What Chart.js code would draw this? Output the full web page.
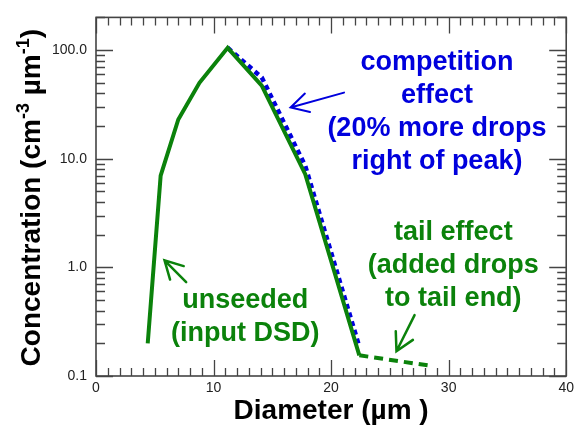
<!DOCTYPE html>
<html>
<head>
<meta charset="utf-8">
<script src="https://cdn.jsdelivr.net/npm/chart.js@4/dist/chart.umd.min.js"></script>
<style>
  html, body { margin: 0; padding: 0; background: #fff; }
  #wrap { width: 578px; height: 429px; }
</style>
</head>
<body>
<div id="wrap"><canvas id="c" width="578" height="429"></canvas></div>
<script>
// ---- data ----
const unseededDiameter = [4.4, 5.5, 7.0, 8.8, 11.2, 14.1, 17.8, 22.4];
const unseededConc     = [0.2, 7.0, 23, 50, 105, 47, 7.2, 0.155];
const competitionDiameter = [11.2, 14.1, 17.8, 22.4];
const competitionConc     = [105, 56, 8.6, 0.186];
const tailDiameter = [22.4, 28.5];
const tailConc     = [0.155, 0.124];
const xTickValues = [0, 10, 20, 30, 40];
const yTickValues = [0.1, 1, 10, 100];
const yTickLabels = ['0.1', '1.0', '10.0', '100.0'];

const GREEN = '#0b820b';
const BLUE = '#0000dd';
const FRAME = '#444';
const FONT = '"Liberation Sans", Arial, Helvetica, sans-serif';

const toPts = (xs, ys) => xs.map((x, i) => ({ x: x, y: ys[i] }));

// annotation config (in data coordinates)
const notes = [
  { lines: ['competition', 'effect', '(20% more drops', 'right of peak)'], x: 29.0, y: 76.5, color: BLUE },
  { lines: ['tail effect', '(added drops', 'to tail end)'], x: 30.4, y: 2.1, color: GREEN },
  { lines: ['unseeded', '(input DSD)'], x: 12.7, y: 0.5, color: GREEN }
];
const arrows = [
  { from: [21.1, 40.6], to: [16.55, 29.6], color: BLUE, width: 2 },
  { from: [7.67, 0.73], to: [5.83, 1.16], color: GREEN, width: 2.5 },
  { from: [27.1, 0.363], to: [25.56, 0.169], color: GREEN, width: 2.5 }
];

const framePlugin = {
  id: 'frameTicks',
  afterDraw(chart) {
    const ctx = chart.ctx;
    const a = chart.chartArea;
    const xs = chart.scales.x, ys = chart.scales.y;
    ctx.save();
    ctx.strokeStyle = FRAME;
    ctx.lineWidth = 1.3;
    ctx.beginPath();
    for (let v = xs.min; v <= xs.max; v += 1) {
      const px = Math.round(xs.getPixelForValue(v)) + 0.5;
      const len = (v % 10 === 0) ? 16 : 8;
      ctx.moveTo(px, a.bottom); ctx.lineTo(px, a.bottom - len);
      ctx.moveTo(px, a.top); ctx.lineTo(px, a.top + len);
    }
    for (let d = 0.1; d <= 100; d *= 10) {
      for (let m = 1; m <= 9; m++) {
        const v = d * m;
        if (v > ys.max + 1e-9) break;
        const py = Math.round(ys.getPixelForValue(v)) + 0.5;
        const len = (m === 1) ? 17 : 9;
        ctx.moveTo(a.left, py); ctx.lineTo(a.left + len, py);
        ctx.moveTo(a.right, py); ctx.lineTo(a.right - len, py);
      }
    }
    ctx.stroke();
    ctx.lineWidth = 1.6;
    ctx.strokeRect(a.left, a.top, a.right - a.left, a.bottom - a.top);

    // annotations
    ctx.textAlign = 'center';
    ctx.textBaseline = 'middle';
    ctx.font = 'bold 27px ' + FONT;
    notes.forEach(n => {
      const cx = xs.getPixelForValue(n.x);
      const cy = ys.getPixelForValue(n.y);
      ctx.fillStyle = n.color;
      n.lines.forEach((t, i) => ctx.fillText(t, cx, cy + i * 33));
    });
    arrows.forEach(ar => {
      const x1 = xs.getPixelForValue(ar.from[0]), y1 = ys.getPixelForValue(ar.from[1]);
      const x2 = xs.getPixelForValue(ar.to[0]), y2 = ys.getPixelForValue(ar.to[1]);
      const ang = Math.atan2(y2 - y1, x2 - x1);
      const hl = 20, ha = 0.5;
      ctx.strokeStyle = ar.color;
      ctx.lineWidth = ar.width;
      ctx.lineCap = 'round';
      ctx.beginPath();
      ctx.moveTo(x1, y1); ctx.lineTo(x2, y2);
      ctx.moveTo(x2 - hl * Math.cos(ang - ha), y2 - hl * Math.sin(ang - ha));
      ctx.lineTo(x2, y2);
      ctx.lineTo(x2 - hl * Math.cos(ang + ha), y2 - hl * Math.sin(ang + ha));
      ctx.stroke();
    });

    // y axis title with superscripts
    const parts = [
      { t: 'Concentration (cm', sup: false },
      { t: '-3', sup: true },
      { t: ' \u00b5m', sup: false },
      { t: '-1', sup: true },
      { t: ')', sup: false }
    ];
    const bigF = 'bold 28px ' + FONT, supF = 'bold 18px ' + FONT;
    let total = 0;
    parts.forEach(p => { ctx.font = p.sup ? supF : bigF; p.w = ctx.measureText(p.t).width; total += p.w; });
    ctx.translate(40, (a.top + a.bottom) / 2 + 1);
    ctx.rotate(-Math.PI / 2);
    ctx.textAlign = 'left';
    ctx.textBaseline = 'alphabetic';
    ctx.fillStyle = '#000';
    let x = -total / 2;
    parts.forEach(p => {
      ctx.font = p.sup ? supF : bigF;
      ctx.fillText(p.t, x, p.sup ? -11 : 0);
      x += p.w;
    });
    ctx.restore();
  }
};

new Chart(document.getElementById('c'), {
  type: 'line',
  data: {
    datasets: [
      {
        label: 'unseeded (input DSD)',
        data: toPts(unseededDiameter, unseededConc),
        borderColor: GREEN, borderWidth: 4, pointRadius: 0, tension: 0, fill: false, order: 1
      },
      {
        label: 'competition effect',
        data: toPts(competitionDiameter, competitionConc),
        borderColor: BLUE, borderWidth: 4.5, borderDash: [5, 4], pointRadius: 0, tension: 0, fill: false, order: 2
      },
      {
        label: 'tail effect',
        data: toPts(tailDiameter, tailConc),
        borderColor: GREEN, borderWidth: 4, borderDash: [9, 6], pointRadius: 0, tension: 0, fill: false, order: 1
      }
    ]
  },
  options: {
    responsive: false,
    animation: false,
    layout: { padding: { top: 16, right: 9, left: 0, bottom: 0 } },
    plugins: { legend: { display: false }, tooltip: { enabled: false } },
    scales: {
      x: {
        type: 'linear', min: 0, max: 40,
        afterBuildTicks: s => { s.ticks = xTickValues.map(v => ({ value: v })); },
        afterFit: s => { s.height = 53; },
        grid: { display: false, drawTicks: false },
        border: { display: false },
        ticks: { padding: 4, color: '#222', font: { family: FONT, size: 14 }, maxRotation: 0, autoSkip: false },
        title: { display: true, text: 'Diameter (\u00b5m )', color: '#000', font: { family: FONT, size: 28, weight: 'bold' }, padding: { top: 0, bottom: 1 } }
      },
      y: {
        type: 'logarithmic', min: 0.1, max: 200,
        afterBuildTicks: s => { s.ticks = yTickValues.map(v => ({ value: v })); },
        afterFit: s => { s.width = 96; },
        grid: { display: false, drawTicks: false },
        border: { display: false },
        ticks: {
          padding: 9, color: '#222', font: { family: FONT, size: 14 }, autoSkip: false,
          callback: (v) => { const i = yTickValues.indexOf(v); return i >= 0 ? yTickLabels[i] : ''; }
        }
      }
    }
  },
  plugins: [framePlugin]
});
</script>
</body>
</html>
